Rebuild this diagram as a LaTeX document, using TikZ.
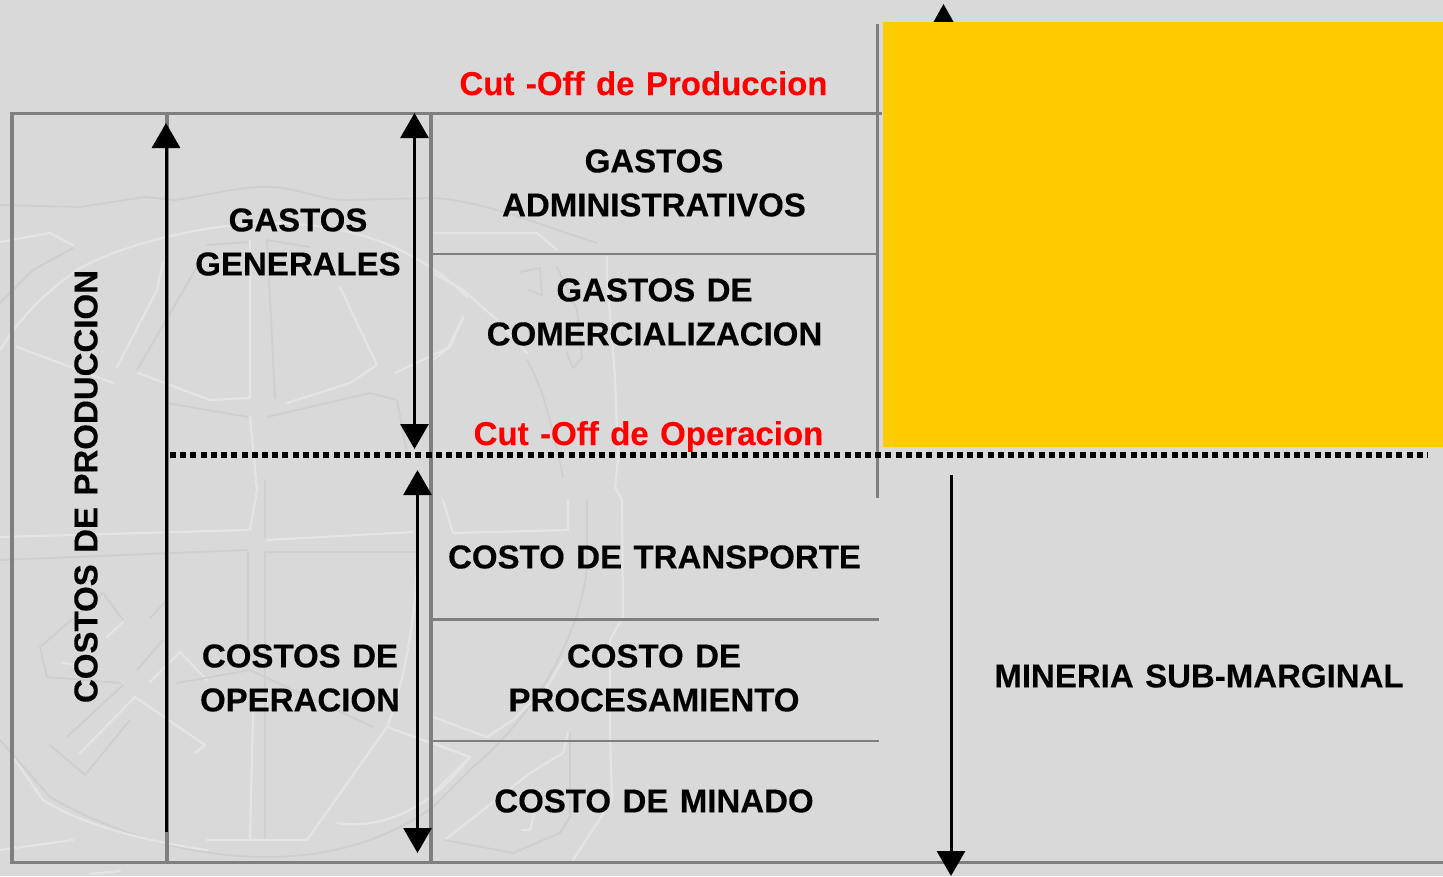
\documentclass[tikz,border=0pt]{standalone}
\usepackage{fontspec}
\setmainfont[WordSpace=1.25,BoldFeatures={FakeBold=0.25}]{Liberation Sans}
\usetikzlibrary{arrows.meta}
\definecolor{bgc}{HTML}{D9D9D9}
\definecolor{gold}{HTML}{FFCC00}
\definecolor{rule}{HTML}{7F7F7F}
\definecolor{wmh}{HTML}{E4E4E4}
\definecolor{wms}{HTML}{CFCFCF}
\tikzset{
  lab/.style={font=\fontsize{33}{44}\selectfont\bfseries,align=center,inner sep=0pt,text=black},
  cut/.style={font=\fontsize{33}{38}\selectfont\bfseries,inner sep=0pt,text=red,anchor=base},
  rl/.style={draw=rule,line width=3.5pt},
  rlthin/.style={draw=rule,line width=2.8pt},
  dbl/.style={draw=black,line width=3pt,{Triangle[length=25pt,width=28pt]}-{Triangle[length=25pt,width=28pt]}},
  sgl/.style={draw=black,line width=3pt,-{Triangle[length=25pt,width=28pt]}},
  hl/.style={draw=wmh,line width=2.2pt,line cap=round,line join=round},
  sh/.style={draw=wms,line width=1.8pt,line cap=round,line join=round}
}
\begin{document}
\begin{tikzpicture}[x=1pt,y=-1pt]
\useasboundingbox (0,0) rectangle (1443,876);
\fill[bgc] (0,0) rectangle (1443,876);
% watermark: globe and crossed tools
\begin{scope}
\clip (0,0) rectangle (880,876);
% outer shaded ring
\draw[sh] (0,205) -- (80,207) -- (145,197) -- (175,200) .. controls (210,195) and (240,186) .. (270,187) .. controls (300,188) and (320,200) .. (345,200) -- (433,198) .. controls (480,200) and (540,225) .. (597,243);
\draw[sh] (587,500) -- (587,567) .. controls (580,640) and (530,720) .. (473,767) -- (433,807) .. controls (380,845) and (320,857) .. (267,857) .. controls (170,857) and (90,820) .. (50,797) -- (0,740);
% inner light ring
\draw[hl] (0,350) .. controls (25,310) and (50,290) .. (77,270) .. controls (110,250) and (190,225) .. (267,223) .. controls (320,222) and (370,235) .. (400,250) .. controls (430,265) and (450,280) .. (467,297);
\draw[hl] (433,233) -- (537,233) -- (557,250);
\draw[hl] (433,273) -- (463,290) -- (497,320) -- (527,353);
\draw[sh] (527,360) .. controls (545,390) and (555,440) .. (563,477);
\draw[hl] (607,257) -- (607,277) -- (615,377) -- (618,460) -- (615,487) -- (622,500) -- (623,617) -- (610,640) -- (610,733) -- (612,800) -- (573,860);
% panels of the globe
\draw[hl] (0,242) -- (50,233) -- (73,245);
\draw[sh] (73,248) -- (33,270) -- (0,303);
\draw[hl] (17,347) -- (113,383);
\draw[hl] (138,373) -- (210,400) -- (250,398) -- (250,240);
\draw[sh] (207,245) -- (248,242);
\draw[sh] (267,240) -- (310,247);
\draw[sh] (267,240) -- (275,398);
\draw[hl] (287,403) -- (350,383) -- (377,365) -- (340,287);
\draw[hl] (395,373) -- (450,347) -- (463,318);
\draw[hl] (433,360) -- (448,348) -- (463,317);
\draw[hl] (117,367) -- (157,290) -- (163,263);
\draw[sh] (137,370) -- (197,267);
\draw[sh] (167,403) -- (248,417);
\draw[sh] (267,417) -- (370,393) -- (397,400) -- (407,453);
\draw[sh] (520,272) -- (540,268) -- (542,295) -- (528,290);
\draw[sh] (567,353) -- (573,368) -- (582,358) -- (577,310) -- (557,267);
% meridian and equator
\draw[hl] (250,417) -- (257,490) -- (250,530);
\draw[sh] (265,480) -- (265,537);
\draw[hl] (0,537) -- (248,530);
\draw[hl] (267,540) -- (413,532);
\draw[sh] (0,560) -- (248,550);
\draw[sh] (267,552) -- (417,552);
\draw[sh] (265,552) -- (265,840);
\draw[sh] (248,552) -- (248,667);
\draw[hl] (253,713) -- (250,840);
\draw[hl] (443,500) -- (453,533) -- (568,530) -- (568,500);
% lower right
\draw[hl] (433,717) -- (487,737) -- (513,720) -- (547,687) -- (563,660);
\draw[hl] (433,743) -- (470,757) -- (433,793);
\draw[hl] (445,840) -- (530,773) -- (563,753) -- (568,733);
\draw[sh] (570,733) -- (570,817) -- (560,833) -- (513,853) -- (445,840);
\draw[hl] (522,830) -- (530,830) -- (540,790);
\draw[hl] (207,840) -- (307,840) -- (387,727) -- (470,757);
\draw[hl] (337,823) .. controls (380,830) and (430,810) .. (470,757);
\draw[hl] (387,727) .. controls (405,680) and (415,620) .. (417,563);
\draw[hl] (0,850) -- (73,840);
\draw[hl] (13,757) -- (43,800) .. controls (90,830) and (170,845) .. (207,850);
\draw[hl] (90,874) -- (120,871);
% crossed tools
\draw[hl] (107,637) -- (123,622);
\draw[hl] (80,753) -- (135,697) -- (205,745) -- (195,753);
\draw[sh] (67,737) -- (123,685);
\draw[hl] (150,682) -- (180,652) -- (207,680);
\draw[sh] (137,670) -- (163,640);
\draw[sh] (150,618) -- (165,602);
\draw[sh] (40,647) -- (103,593) -- (123,620);
\draw[sh] (40,647) -- (47,677) -- (120,683);
\draw[hl] (62,663) -- (80,665);
\draw[sh] (177,683) -- (250,670) -- (373,727);
\draw[sh] (50,745) -- (85,775) -- (130,720);
\end{scope}
% top arrow, hidden by the yellow block
\fill[black] (943.5,4) -- (957.5,29) -- (929.5,29) -- cycle;
\node[fill=gold,minimum width=560pt,minimum height=425pt,inner sep=0pt,anchor=north west] (gold) at (883,22) {};
% rules
\draw[rl] (882,113.5) -- (12,113.5) -- (12,862.5) -- (1443,862.5);
\draw[rl] (167,113.5) -- (167,862.5);
\draw[rl] (431,113.5) -- (431,862.5);
\draw[rl] (877.5,24) -- (877.5,498);
\draw[rlthin] (432,254) -- (877,254);
\draw[rlthin] (432,619.5) -- (879,619.5);
\draw[rlthin] (432,741) -- (879,741);
% dotted
\coordinate (dl) at (170,455);
\coordinate (dr) at (1428,455);
\draw[black,line width=6pt,dash pattern=on 6pt off 4.22pt] (dl) -- (dr);
% arrows
\coordinate (a1a) at (166,832); \coordinate (a1b) at (166,123);
\coordinate (a2a) at (414.5,113); \coordinate (a2b) at (414.5,449);
\coordinate (a3a) at (417.5,470); \coordinate (a3b) at (417.5,853);
\coordinate (a4a) at (951,475); \coordinate (a4b) at (951,876);
\draw[sgl] (a1a) -- (a1b);
\draw[dbl] (a2a) -- (a2b);
\draw[dbl] (a3a) -- (a3b);
\draw[sgl] (a4a) -- (a4b);
% labels
\node[cut] (c1) at (643.5,95) {Cut -Off de Produccion};
\node[cut] (c2) at (648.5,445) {Cut -Off de Operacion};
\node[lab] (n1) at (654,183) {GASTOS\\ADMINISTRATIVOS};
\node[lab] (n2) at (654.5,312) {GASTOS DE\\COMERCIALIZACION};
\node[lab] (n3) at (654.5,557) {COSTO DE TRANSPORTE};
\node[lab] (n4) at (654,678) {COSTO DE\\PROCESAMIENTO};
\node[lab] (n5) at (654,801) {COSTO DE MINADO};
\node[lab] (n6) at (298,242) {GASTOS\\GENERALES};
\node[lab] (n7) at (300,678) {COSTOS DE\\OPERACION};
\node[lab] (n8) at (1199,676) {MINERIA SUB-MARGINAL};
\node[lab,rotate=90] (n9) at (86,486.5) {COSTOS DE PRODUCCION};
\end{tikzpicture}
\end{document}
